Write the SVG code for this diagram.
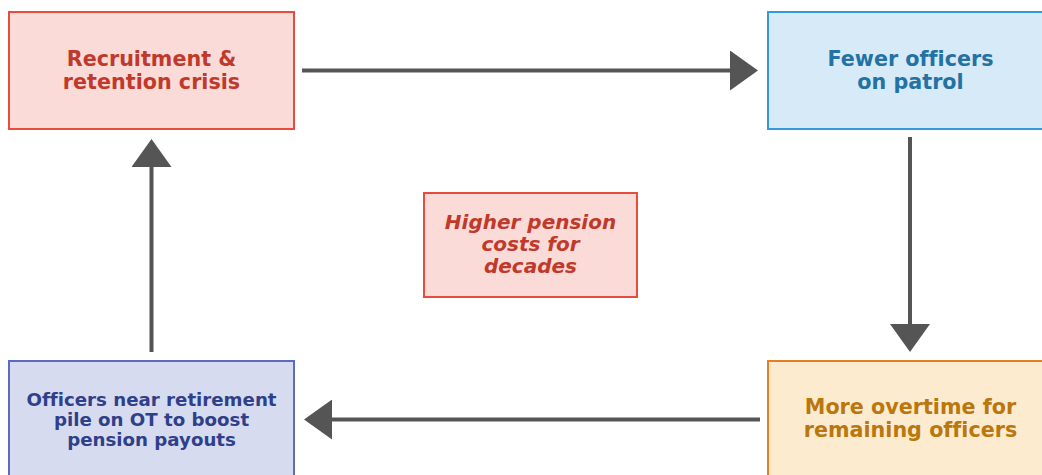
<svg xmlns="http://www.w3.org/2000/svg" width="1042" height="475" viewBox="0 0 1042 475">
<style>
.box{stroke-width:2}
.t{font-family:"DejaVu Sans",sans-serif;font-weight:bold;text-anchor:middle;font-variant-ligatures:none}
.conn line{stroke:#555;stroke-width:4}
</style>
<defs>
<marker id="ah" markerUnits="userSpaceOnUse" markerWidth="28" markerHeight="40" refX="0" refY="20" orient="auto" viewBox="0 0 28 40">
<path d="M0,0 L28,20 L0,40 Z" fill="#555"/>
</marker>
</defs>
<rect width="1042" height="475" fill="#fff"/>
<g id="recruitment">
<rect class="box" x="9" y="12" width="285" height="117" fill="#fadbd8" stroke="#e74c3c"/>
<text class="t" font-size="20.7" fill="#c0392b" x="151.5" y="66">Recruitment &amp;</text>
<text class="t" font-size="20.7" fill="#c0392b" x="151.5" y="89">retention crisis</text>
</g>
<g id="fewer">
<rect class="box" x="768" y="12" width="285" height="117" fill="#d6eaf8" stroke="#3498db"/>
<text class="t" font-size="20.7" fill="#2471a3" x="910.5" y="66">Fewer officers</text>
<text class="t" font-size="20.7" fill="#2471a3" x="910.5" y="89">on patrol</text>
</g>
<g id="overtime">
<rect class="box" x="768" y="361" width="285" height="117" fill="#fdebd0" stroke="#e67e22"/>
<text class="t" font-size="20.7" fill="#b9770e" x="910.5" y="414">More overtime for</text>
<text class="t" font-size="20.7" fill="#b9770e" x="910.5" y="437">remaining officers</text>
</g>
<g id="retirement">
<rect class="box" x="9" y="361" width="285" height="117" fill="#d7dbf0" stroke="#5c6bc0"/>
<text class="t" font-size="18.2" fill="#2e4089" x="151.5" y="406">Officers near retirement</text>
<text class="t" font-size="18.2" fill="#2e4089" x="151.5" y="426">pile on OT to boost</text>
<text class="t" font-size="18.2" fill="#2e4089" x="151.5" y="446">pension payouts</text>
</g>
<g id="pension">
<rect class="box" x="424" y="193" width="213" height="104" fill="#fadbd8" stroke="#e74c3c"/>
<text class="t" font-size="20" font-style="italic" fill="#c0392b" x="530.5" y="229">Higher pension</text>
<text class="t" font-size="20" font-style="italic" fill="#c0392b" x="530.5" y="251">costs for</text>
<text class="t" font-size="20" font-style="italic" fill="#c0392b" x="530.5" y="273">decades</text>
</g>
<g id="connectors" class="conn">
<line x1="302" y1="70.5" x2="730" y2="70.5" marker-end="url(#ah)"/>
<line x1="910" y1="137" x2="910" y2="324" marker-end="url(#ah)"/>
<line x1="760" y1="419.5" x2="332" y2="419.5" marker-end="url(#ah)"/>
<line x1="151.5" y1="352" x2="151.5" y2="167" marker-end="url(#ah)"/>
</g>
</svg>
